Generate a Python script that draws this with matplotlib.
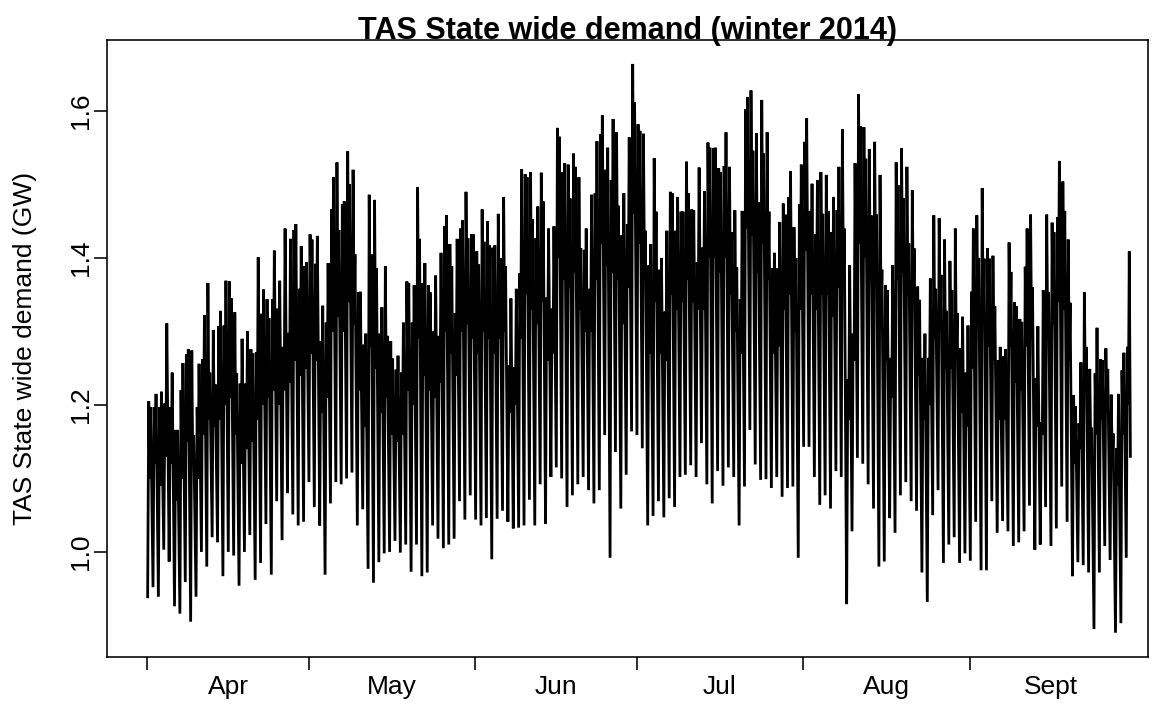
import numpy as np
import matplotlib
matplotlib.use("Agg")
import matplotlib.pyplot as plt
from matplotlib.ticker import FixedLocator, FixedFormatter, NullFormatter

plt.rcParams["font.family"] = ["Liberation Sans", "DejaVu Sans"]

# Daily demand profile, GW (1 April .. 30 September 2014)
trough = [
    0.939, 0.952, 0.939, 1.003, 0.987, 0.926, 0.916, 0.959, 0.905, 0.939,
    1.000, 0.980, 1.020, 1.013, 0.967, 1.000, 0.995, 0.954, 1.000, 1.023,
    0.962, 0.985, 1.038, 0.969, 1.069, 1.016, 1.080, 1.051, 1.036, 1.041,
    1.095, 1.061, 1.036, 0.969, 1.066, 1.095, 1.092, 1.100, 1.108, 1.036,
    1.058, 0.977, 0.958, 0.986, 0.998, 1.000, 1.015, 0.999, 1.010, 0.973,
    1.010, 0.967, 0.972, 1.036, 1.018, 1.005, 1.010, 1.018, 1.069, 1.044,
    1.077, 1.044, 1.036, 1.046, 0.990, 1.045, 1.056, 1.041, 1.032, 1.033,
    1.036, 1.071, 1.036, 1.092, 1.038, 1.102, 1.115, 1.100, 1.061, 1.077,
    1.092, 1.102, 1.084, 1.066, 1.084, 1.159, 0.992, 1.136, 1.059, 1.105,
    1.164, 1.159, 1.141, 1.036, 1.049, 1.069, 1.047, 1.073, 1.061, 1.102,
    1.105, 1.118, 1.102, 1.148, 1.092, 1.066, 1.110, 1.090, 1.115, 1.102,
    1.036, 1.089, 1.166, 1.119, 1.098, 1.099, 1.087, 1.102, 1.075, 1.087,
    1.089, 0.992, 1.143, 1.143, 1.102, 1.064, 1.077, 1.059, 1.110, 1.102,
    0.929, 1.028, 1.128, 1.120, 1.092, 1.059, 0.980, 0.987, 1.046, 1.026,
    1.077, 1.095, 1.069, 1.056, 0.972, 0.932, 1.050, 1.084, 0.985, 1.010,
    1.020, 0.985, 0.998, 0.988, 1.041, 0.975, 0.975, 1.069, 1.026, 1.042,
    1.028, 1.008, 1.013, 1.028, 1.063, 1.003, 1.010, 1.061, 1.008, 1.032,
    1.089, 1.041, 0.967, 0.986, 0.982, 0.972, 0.895, 0.972, 1.008, 0.989,
    0.890, 0.903, 0.992,
]

am_peak = [
    1.205, 1.197, 1.197, 1.202, 1.197, 1.166, 1.220, 1.269, 1.274, 1.197,
    1.262, 1.366, 1.302, 1.307, 1.308, 1.368, 1.326, 1.229, 1.229, 1.276,
    1.272, 1.324, 1.344, 1.344, 1.331, 1.279, 1.298, 1.438, 1.358, 1.389,
    1.432, 1.392, 1.287, 1.312, 1.466, 1.530, 1.473, 1.545, 1.520, 1.353,
    1.282, 1.486, 1.479, 1.297, 1.389, 1.287, 1.248, 1.244, 1.368, 1.312,
    1.496, 1.366, 1.363, 1.300, 1.294, 1.443, 1.419, 1.325, 1.440, 1.490,
    1.432, 1.409, 1.466, 1.450, 1.414, 1.460, 1.483, 1.254, 1.251, 1.379,
    1.514, 1.517, 1.427, 1.516, 1.346, 1.331, 1.577, 1.517, 1.527, 1.542,
    1.510, 1.411, 1.358, 1.488, 1.568, 1.520, 1.506, 1.571, 1.431, 1.446,
    1.664, 1.582, 1.569, 1.390, 1.536, 1.384, 1.327, 1.490, 1.437, 1.463,
    1.531, 1.466, 1.394, 1.414, 1.557, 1.549, 1.522, 1.525, 1.524, 1.465,
    1.344, 1.602, 1.628, 1.570, 1.615, 1.571, 1.386, 1.386, 1.474, 1.483,
    1.442, 1.473, 1.558, 1.464, 1.432, 1.517, 1.513, 1.435, 1.465, 1.575,
    1.235, 1.297, 1.623, 1.578, 1.548, 1.558, 1.513, 1.363, 1.264, 1.530,
    1.549, 1.524, 1.492, 1.361, 1.264, 1.264, 1.458, 1.454, 1.425, 1.396,
    1.440, 1.277, 1.244, 1.354, 1.458, 1.495, 1.413, 1.403, 1.261, 1.266,
    1.421, 1.340, 1.317, 1.388, 1.459, 1.236, 1.176, 1.459, 1.448, 1.455,
    1.504, 1.425, 1.213, 1.175, 1.353, 1.249, 1.243, 1.262, 1.277, 1.214,
    1.141, 1.247, 1.279,
]

midday = [
    1.10, 1.12, 1.09, 1.13, 1.12, 1.07, 1.10, 1.15, 1.12, 1.10,
    1.16, 1.18, 1.17, 1.18, 1.20, 1.21, 1.16, 1.12, 1.14, 1.15,
    1.18, 1.20, 1.21, 1.22, 1.20, 1.22, 1.23, 1.26, 1.24, 1.25,
    1.27, 1.26, 1.19, 1.21, 1.30, 1.32, 1.30, 1.34, 1.31, 1.22,
    1.17, 1.28, 1.25, 1.19, 1.21, 1.16, 1.15, 1.16, 1.22, 1.20,
    1.29, 1.24, 1.22, 1.21, 1.23, 1.30, 1.27, 1.24, 1.30, 1.31,
    1.29, 1.27, 1.30, 1.29, 1.27, 1.29, 1.30, 1.19, 1.20, 1.29,
    1.35, 1.33, 1.31, 1.34, 1.26, 1.27, 1.40, 1.37, 1.36, 1.38,
    1.33, 1.30, 1.30, 1.37, 1.42, 1.39, 1.38, 1.37, 1.31, 1.36,
    1.46, 1.42, 1.38, 1.27, 1.34, 1.27, 1.26, 1.35, 1.33, 1.34,
    1.37, 1.34, 1.33, 1.33, 1.40, 1.40, 1.38, 1.40, 1.35, 1.30,
    1.27, 1.44, 1.43, 1.38, 1.42, 1.37, 1.27, 1.28, 1.33, 1.35,
    1.30, 1.33, 1.41, 1.35, 1.33, 1.35, 1.35, 1.32, 1.36, 1.37,
    1.18, 1.26, 1.42, 1.40, 1.37, 1.37, 1.33, 1.26, 1.21, 1.37,
    1.38, 1.35, 1.34, 1.24, 1.18, 1.20, 1.29, 1.30, 1.25, 1.25,
    1.27, 1.19, 1.17, 1.25, 1.31, 1.32, 1.28, 1.26, 1.18, 1.18,
    1.28, 1.23, 1.22, 1.28, 1.29, 1.17, 1.16, 1.29, 1.31, 1.34,
    1.33, 1.26, 1.12, 1.14, 1.22, 1.14, 1.16, 1.18, 1.19, 1.12,
    1.09, 1.16, 1.20,
]

pm_peak = [
    1.197, 1.215, 1.218, 1.311, 1.244, 1.166, 1.257, 1.276, 1.159, 1.256,
    1.322, 1.244, 1.228, 1.328, 1.369, 1.345, 1.243, 1.290, 1.300, 1.270,
    1.401, 1.357, 1.318, 1.410, 1.369, 1.440, 1.426, 1.446, 1.416, 1.394,
    1.425, 1.430, 1.335, 1.393, 1.510, 1.438, 1.477, 1.500, 1.405, 1.354,
    1.297, 1.405, 1.386, 1.333, 1.294, 1.263, 1.267, 1.312, 1.366, 1.363,
    1.426, 1.393, 1.353, 1.376, 1.407, 1.458, 1.389, 1.426, 1.451, 1.427,
    1.432, 1.391, 1.422, 1.417, 1.417, 1.400, 1.389, 1.345, 1.358, 1.521,
    1.510, 1.453, 1.470, 1.477, 1.440, 1.443, 1.565, 1.529, 1.481, 1.524,
    1.413, 1.440, 1.486, 1.559, 1.594, 1.550, 1.589, 1.471, 1.488, 1.564,
    1.612, 1.573, 1.437, 1.419, 1.463, 1.400, 1.437, 1.488, 1.483, 1.463,
    1.488, 1.465, 1.523, 1.491, 1.550, 1.550, 1.517, 1.571, 1.435, 1.387,
    1.464, 1.619, 1.546, 1.476, 1.542, 1.463, 1.407, 1.449, 1.459, 1.518,
    1.400, 1.527, 1.590, 1.501, 1.506, 1.460, 1.464, 1.483, 1.524, 1.440,
    1.390, 1.529, 1.579, 1.535, 1.458, 1.459, 1.384, 1.356, 1.390, 1.499,
    1.481, 1.420, 1.413, 1.343, 1.297, 1.372, 1.358, 1.377, 1.328, 1.356,
    1.325, 1.320, 1.308, 1.440, 1.400, 1.399, 1.399, 1.334, 1.279, 1.276,
    1.381, 1.334, 1.313, 1.440, 1.360, 1.307, 1.356, 1.353, 1.435, 1.532,
    1.464, 1.339, 1.198, 1.258, 1.279, 1.169, 1.305, 1.261, 1.249, 1.161,
    1.215, 1.271, 1.409,
]

final_value = 1.13

# Hours of day at which each daily reading applies
profile_hours = [1.5, 6.5, 11.0, 15.0]
final_hour = 20.0

month_labels = ["Apr", "May", "Jun", "Jul", "Aug", "Sept"]
month_starts = [0, 30, 61, 91, 122, 153]      # days since 1 April
month_lengths = [30, 31, 30, 31, 31, 30]

# Assemble the time series (x in days since 1 April)
n_days = len(trough)
days = np.arange(n_days)
t = (days[:, None] + np.array(profile_hours)[None, :] / 24.0).ravel()
v = np.column_stack([trough, am_peak, midday, pm_peak]).ravel()
t = np.append(t, n_days - 1 + final_hour / 24.0)
v = np.append(v, final_value)

W, H = 1164, 707
fig = plt.figure(figsize=(W / 100, H / 100), dpi=100)
left, right, top, bottom = 107, 1148, 40, 657
ax = fig.add_axes([left / W, 1 - bottom / H, (right - left) / W, (bottom - top) / H])

ax.plot(t, v, color="black", lw=2.0, solid_joinstyle="miter")

px_per_day = 5.377
x0_px = 147.3
ax.set_xlim((left - x0_px) / px_per_day, (right - x0_px) / px_per_day)
ax.set_ylim(0.857, 1.6966)

for s in ax.spines.values():
    s.set_linewidth(1.15)
    s.set_color("black")

# x axis: ticks at month boundaries, labels centred in each month
ax.xaxis.set_major_locator(FixedLocator(month_starts))
ax.xaxis.set_major_formatter(NullFormatter())
mids = [s + n / 2 for s, n in zip(month_starts, month_lengths)]
ax.xaxis.set_minor_locator(FixedLocator(mids))
ax.xaxis.set_minor_formatter(FixedFormatter(month_labels))
ax.tick_params(axis="x", which="major", length=9.4, width=1.15, direction="out")
ax.tick_params(axis="x", which="minor", length=0, pad=13, labelsize=19)

# y axis
yticks = [1.0, 1.2, 1.4, 1.6]
ax.set_yticks(yticks)
ax.set_yticklabels([f"{y:.1f}" for y in yticks])
ax.tick_params(axis="y", length=9.4, width=1.15, direction="out", pad=1, labelsize=19)
for lab in ax.get_yticklabels():
    lab.set_rotation(90)
    lab.set_va("center")
    lab.set_ha("right")

fig.text(25 / W, 1 - 348.5 / H, "TAS State wide demand (GW)", rotation=90,
         ha="center", va="center", fontsize=19)
fig.text(627.5 / W, 1 - 39 / H, "TAS State wide demand (winter 2014)",
         ha="center", va="baseline", fontsize=22, fontweight="bold")

fig.savefig("out.png", dpi=100, facecolor="white")
